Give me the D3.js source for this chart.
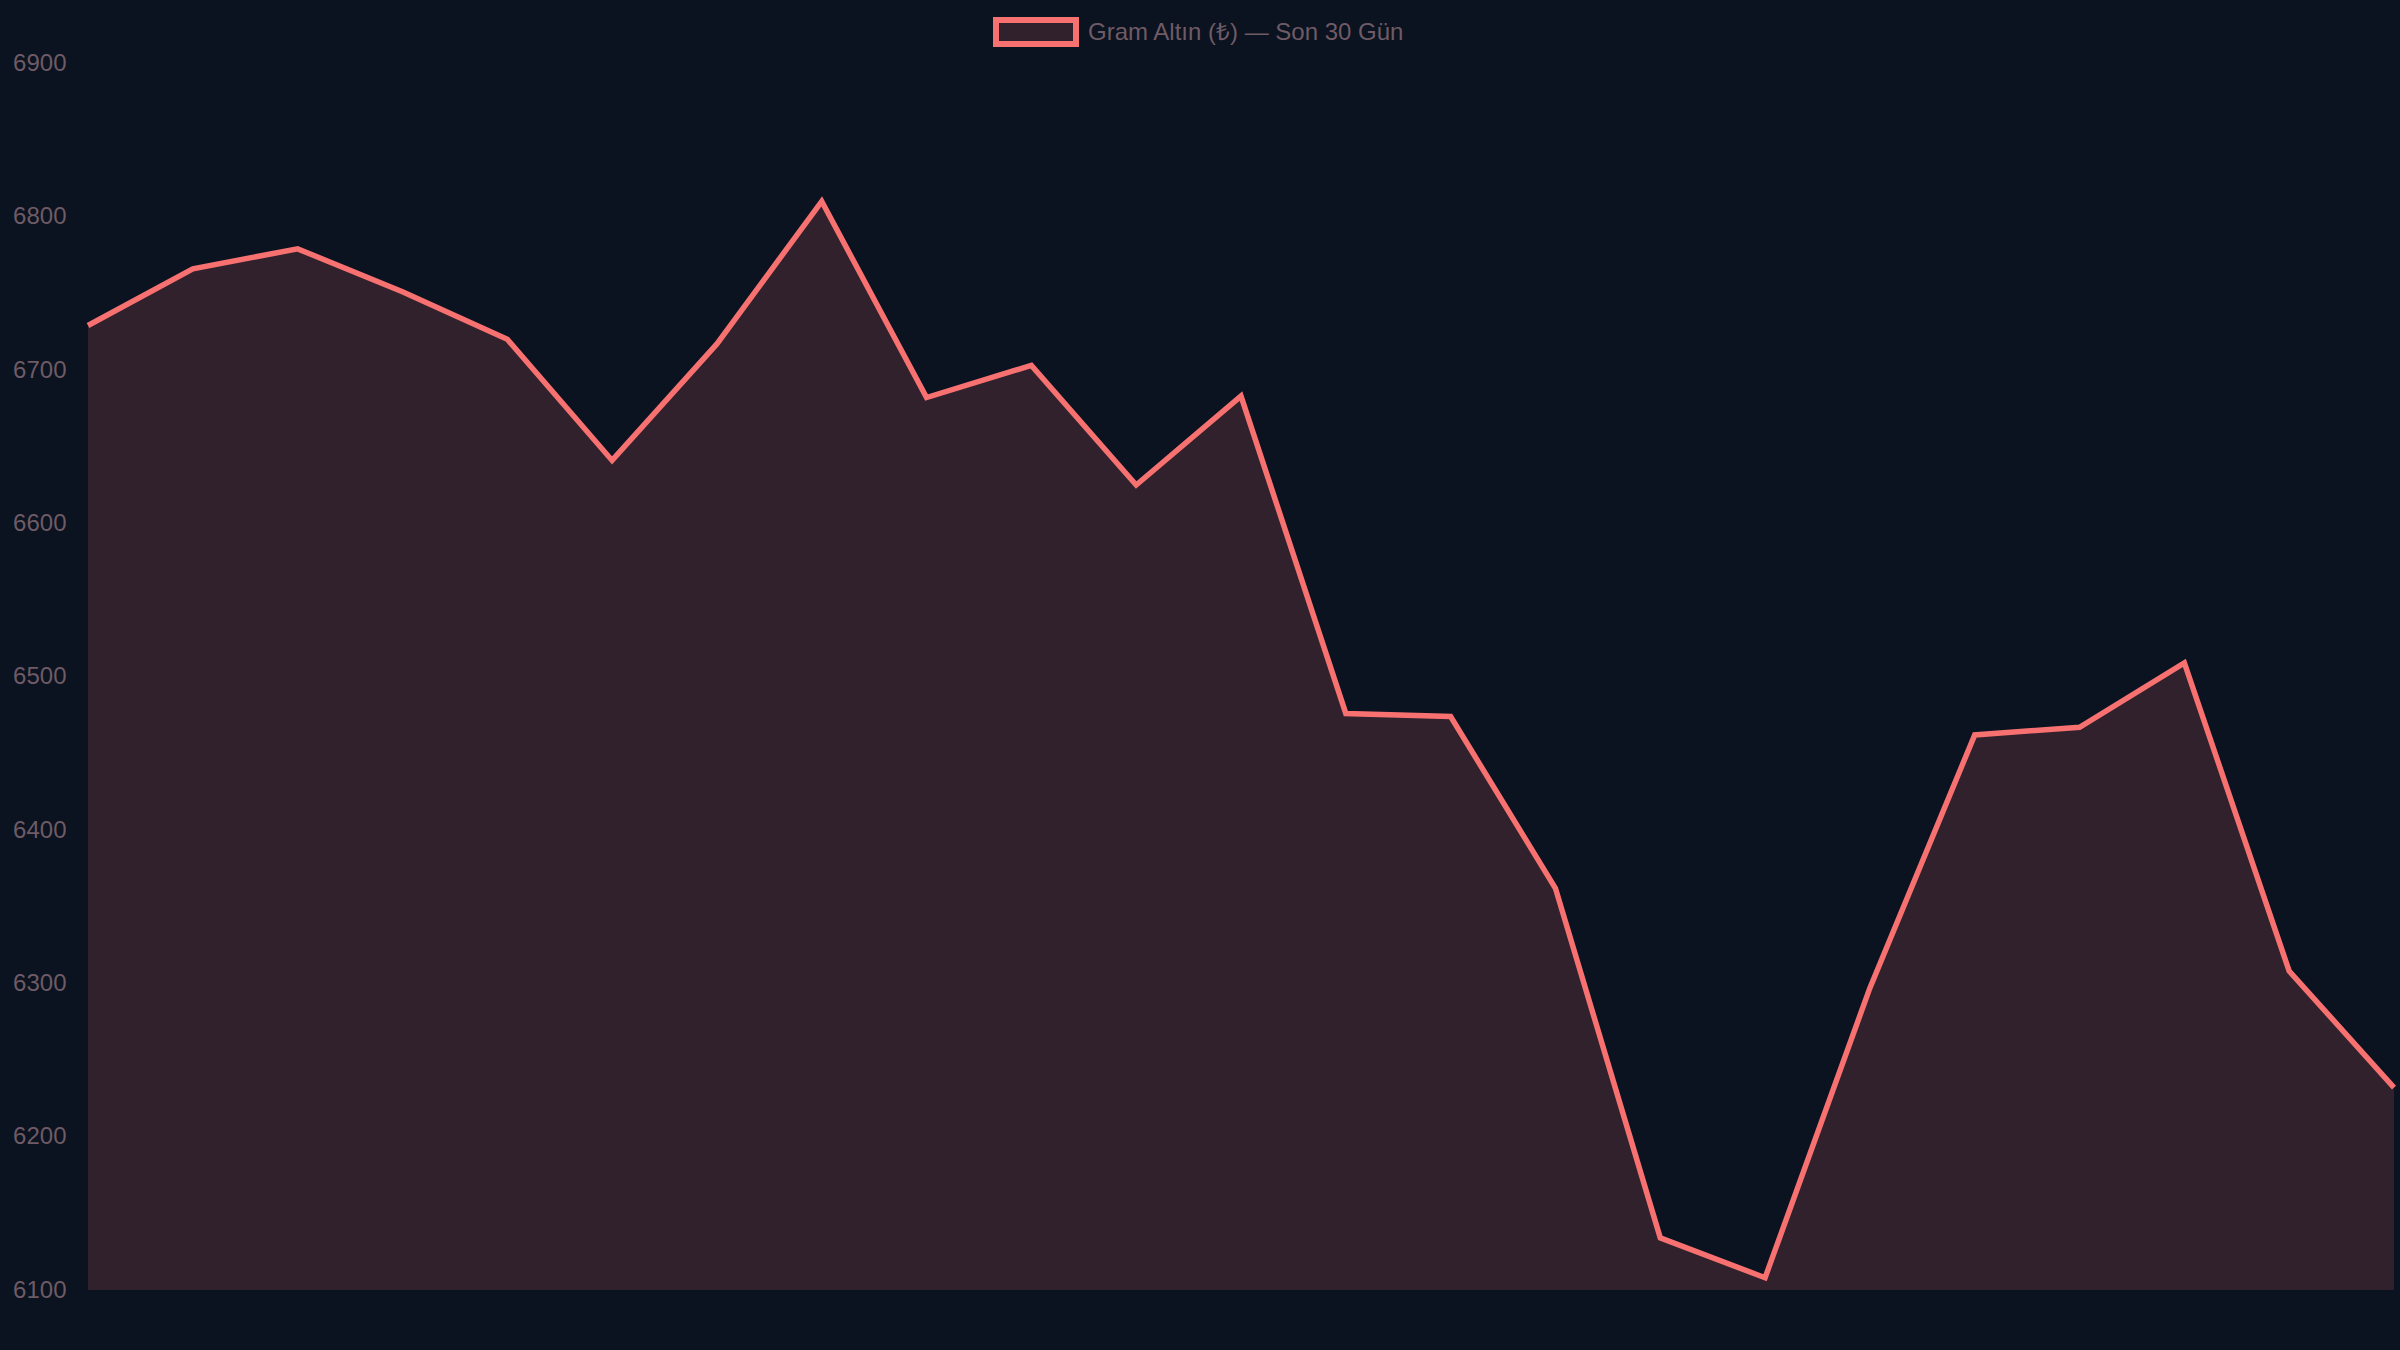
<!DOCTYPE html>
<html>
<head>
<meta charset="utf-8">
<script src="https://cdn.jsdelivr.net/npm/d3@7"></script>
<style>
  html, body { margin: 0; padding: 0; background: #0b1220; }
  svg { display: block; }
</style>
</head>
<body>
<svg id="chart" width="2400" height="1350"></svg>
<script>
// ---- data ----
const labels = ["1", "2", "3", "4", "5", "6", "7", "8", "9", "10", "11", "12",
                "13", "14", "15", "16", "17", "18", "19", "20", "21", "22", "23"];
const values = [6729, 6766, 6779, 6751, 6720, 6641, 6717, 6810, 6682, 6703, 6625, 6683,
                6476, 6474, 6362, 6134, 6108, 6297, 6462, 6467, 6509, 6308, 6232];
const yTicks = [6100, 6200, 6300, 6400, 6500, 6600, 6700, 6800, 6900];
const seriesName = "Gram Altın (₺) — Son 30 Gün";

// ---- layout ----
const W = 2400, H = 1350;
const plotLeft = 88, plotRight = 2394, plotTop = 63.3, plotBottom = 1290;
const lineColor = "#f87171";
const fillColor = "rgba(248,113,113,0.16)";
const textColor = "#6e5b65";
const font = "'Liberation Sans', Arial, sans-serif";

const svg = d3.select("#chart");
svg.append("rect").attr("width", W).attr("height", H).attr("fill", "#0b1220");

const x = d3.scalePoint().domain(labels).range([plotLeft, plotRight]);
const y = d3.scaleLinear().domain([6100, 6900]).range([plotBottom, plotTop]);

// area
const area = d3.area()
  .x((d, i) => x(labels[i]))
  .y0(plotBottom)
  .y1(d => y(d));
svg.append("path").datum(values)
  .attr("d", area)
  .attr("fill", fillColor);

// line
const line = d3.line()
  .x((d, i) => x(labels[i]))
  .y(d => y(d));
svg.append("path").datum(values)
  .attr("d", line)
  .attr("fill", "none")
  .attr("stroke", lineColor)
  .attr("stroke-width", 5.5)
  .attr("stroke-linejoin", "miter")
  .attr("stroke-miterlimit", 10);

// y axis
const yAxis = d3.axisLeft(y).tickValues(yTicks).tickSize(0).tickPadding(0).tickFormat(d3.format("d"));
const gy = svg.append("g").attr("transform", "translate(66.5,0)").call(yAxis);
gy.select(".domain").remove();
gy.selectAll("text")
  .attr("fill", textColor)
  .attr("font-family", font)
  .attr("font-size", 24)
  .attr("dy", "0.3em");

// legend
const lg = svg.append("g");
lg.append("rect")
  .attr("x", 996).attr("y", 20).attr("width", 80).attr("height", 24)
  .attr("fill", fillColor)
  .attr("stroke", lineColor)
  .attr("stroke-width", 6);
lg.append("text")
  .attr("x", 1088).attr("y", 32)
  .attr("dy", "0.33em")
  .attr("fill", textColor)
  .attr("font-family", font)
  .attr("font-size", 24)
  .text(seriesName);
</script>
</body>
</html>
